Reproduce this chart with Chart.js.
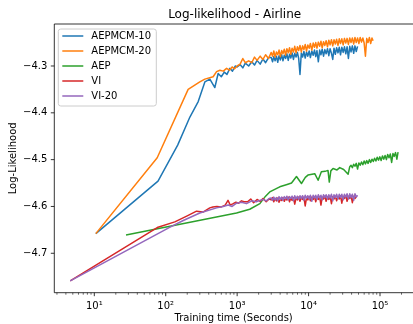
<!DOCTYPE html>
<html><head><meta charset="utf-8">
<script src="https://cdn.jsdelivr.net/npm/chart.js@4.4.0/dist/chart.umd.min.js"></script>
<style>html,body{margin:0;padding:0;background:#fff;}canvas{display:block;}</style>
</head><body>
<canvas id="c" width="413" height="324"></canvas>
<script>
// ---------- data ----------
const chartTitle = 'Log-likelihood - Airline';
const xAxisTitle = 'Training time (Seconds)';
const yAxisTitle = 'Log-Likelihood';
const seriesNames = ['AEPMCM-10', 'AEPMCM-20', 'AEP', 'VI', 'VI-20'];
const seriesColors = ['#1f77b4', '#ff7f0e', '#2ca02c', '#d62728', '#9467bd'];

const xMajorTicks = [10, 100, 1000, 10000, 100000];
const xTickText = ['10\u00b9', '10\u00b2', '10\u00b3', '10\u2074', '10\u2075'];
const yTicks = [-4.7, -4.6, -4.5, -4.4, -4.3];
const yTickText = ['\u22124.7', '\u22124.6', '\u22124.5', '\u22124.4', '\u22124.3'];

// evaluation times of the long runs (seconds)
const denseTimes = [3000, 3130, 3260, 3400, 3550, 3700, 3860, 4030, 4200, 4380,
  4570, 4770, 4970, 5190, 5410, 5640, 5880, 6140, 6400, 6680,
  6970, 7270, 7580, 7910, 8250, 8600, 8970, 9360, 9760, 10200,
  10600, 11100, 11600, 12100, 12600, 13100, 13700, 14300, 14900, 15500,
  16200, 16900, 17600, 18400, 19200, 20000, 20900, 21800, 22700, 23700,
  24700, 25800, 26900, 28000, 29200, 30500, 31800, 33200, 34600, 36100,
  37700, 39300, 41000, 42800, 44600, 46500, 48500, 50600, 52800, 55100,
  57500, 60000, 62500, 65200, 68000, 71000, 74000, 77200, 80000];

const aepmcm10Time = [10.5, 78, 147, 218, 285, 353, 415, 487, 542, 600, 660, 720, 790, 860, 940,
  1000, 1100, 1200, 1300, 1450, 1600, 1750, 1900, 2100, 2300, 2500, 2750].concat(denseTimes);
const aepmcm10LL = [-4.658, -4.546, -4.469, -4.409, -4.376, -4.334, -4.328, -4.346, -4.316, -4.323, -4.313, -4.318, -4.305, -4.311, -4.300,
  -4.302, -4.297, -4.304, -4.294, -4.300, -4.291, -4.298, -4.288, -4.296, -4.285, -4.293, -4.282,
  -4.282, -4.291, -4.280, -4.289, -4.279, -4.292, -4.278, -4.287, -4.276, -4.289,
  -4.277, -4.284, -4.274, -4.288, -4.275, -4.283, -4.272, -4.286, -4.273, -4.281,
  -4.271, -4.284, -4.318, -4.272, -4.281, -4.269, -4.283, -4.270, -4.279, -4.268,
  -4.282, -4.268, -4.277, -4.266, -4.280, -4.267, -4.291, -4.266, -4.276, -4.264,
  -4.279, -4.265, -4.274, -4.263, -4.278, -4.263, -4.273, -4.286, -4.262, -4.275,
  -4.261, -4.272, -4.260, -4.276, -4.260, -4.271, -4.259, -4.274, -4.259, -4.284,
  -4.258, -4.270, -4.257, -4.273, -4.257, -4.269, -4.258];

const aepmcm20Time = [10.5, 76, 206, 300, 353, 461, 515, 573, 640, 711, 780, 850, 920,
  1000, 1100, 1200, 1300, 1450, 1600, 1750, 1900, 2100, 2300, 2500, 2750].concat(denseTimes);
const aepmcm20LL = [-4.658, -4.496, -4.350, -4.334, -4.328, -4.323, -4.312, -4.309, -4.311, -4.305, -4.309, -4.302, -4.306,
  -4.300, -4.296, -4.284, -4.293, -4.289, -4.293, -4.281, -4.288, -4.279, -4.286, -4.276, -4.284,
  -4.271, -4.279, -4.268, -4.281, -4.270, -4.276, -4.266, -4.280, -4.267, -4.274,
  -4.264, -4.277, -4.263, -4.272, -4.261, -4.275, -4.262, -4.270, -4.258, -4.272,
  -4.259, -4.267, -4.256, -4.270, -4.257, -4.265, -4.254, -4.268, -4.255, -4.262,
  -4.252, -4.266, -4.251, -4.260, -4.250, -4.262, -4.249, -4.258, -4.247, -4.261,
  -4.248, -4.256, -4.246, -4.259, -4.245, -4.255, -4.244, -4.257, -4.244, -4.253,
  -4.243, -4.256, -4.242, -4.252, -4.242, -4.255, -4.241, -4.251, -4.241, -4.254,
  -4.240, -4.250, -4.240, -4.253, -4.239, -4.250, -4.240, -4.252, -4.239, -4.249,
  -4.240, -4.251, -4.279, -4.241, -4.250, -4.239, -4.252, -4.240, -4.246];

const aepTime = [27.8, 980, 1500, 2080, 2500, 2860, 3950, 5000, 5770, 6770, 7950, 9000, 9800, 12200, 13600, 15100, 17000, 18700, 19500, 20500, 22000, 25000, 27300, 31000, 35800,
  37700, 39300, 41000, 42800, 44600, 46500, 48500, 50600, 52800, 55100, 57500, 60000, 62500, 65200, 68000, 71000, 74000, 77200, 80500, 84000, 87600, 91400, 95300, 99400,
  103700, 108200, 112900, 117800, 122900, 128200, 133700, 139500, 145500, 151800, 158300, 165100, 172200, 179000];
const aepLL = [-4.661, -4.614, -4.606, -4.594, -4.578, -4.569, -4.558, -4.553, -4.550, -4.536, -4.551, -4.538, -4.533, -4.530, -4.544, -4.526, -4.525, -4.523, -4.548, -4.524, -4.519, -4.522, -4.517, -4.521, -4.531,
  -4.515, -4.512, -4.517, -4.510, -4.514, -4.508, -4.520, -4.507, -4.512, -4.505, -4.511, -4.503, -4.509, -4.502, -4.508, -4.500, -4.506, -4.499, -4.504, -4.497, -4.503, -4.495, -4.501, -4.494,
  -4.502, -4.492, -4.499, -4.491, -4.500, -4.489, -4.496, -4.488, -4.506, -4.487, -4.493, -4.485, -4.499, -4.484];

const viTime = [4.6, 76, 134, 200, 270, 333, 414, 457, 520, 600, 680, 745, 800, 880, 960, 1050, 1150, 1250,
  1400, 1550, 1700, 1900, 2100, 2300, 2550, 2800].concat(denseTimes);
const viLL = [-4.759, -4.645, -4.633, -4.620, -4.610, -4.612, -4.603, -4.601, -4.600, -4.601, -4.597, -4.587, -4.597, -4.594, -4.591, -4.593, -4.588, -4.590,
  -4.590, -4.584, -4.592, -4.585, -4.589, -4.583, -4.590, -4.584,
  -4.586, -4.581, -4.590, -4.583, -4.588, -4.582, -4.591, -4.584, -4.587, -4.581,
  -4.589, -4.583, -4.586, -4.580, -4.590, -4.582, -4.587, -4.581, -4.595, -4.582,
  -4.586, -4.580, -4.589, -4.581, -4.585, -4.580, -4.599, -4.581, -4.586, -4.579,
  -4.588, -4.580, -4.585, -4.579, -4.590, -4.580, -4.585, -4.579, -4.597, -4.580,
  -4.584, -4.578, -4.589, -4.579, -4.585, -4.578, -4.594, -4.579, -4.584, -4.578,
  -4.588, -4.579, -4.584, -4.577, -4.593, -4.578, -4.583, -4.577, -4.589, -4.578,
  -4.583, -4.577, -4.592, -4.578, -4.583, -4.580];

const vi20Time = [4.6, 115, 176, 300, 515, 637, 750, 850, 980, 1150, 1350, 1600, 1850, 2080, 2300, 2550, 2800].concat(denseTimes);
const vi20LL = [-4.759, -4.644, -4.630, -4.614, -4.603, -4.600, -4.597, -4.600, -4.593, -4.591, -4.594, -4.588, -4.590, -4.587, -4.585, -4.588, -4.583,
  -4.582, -4.587, -4.580, -4.586, -4.581, -4.588, -4.579, -4.585, -4.580, -4.587,
  -4.579, -4.584, -4.578, -4.586, -4.579, -4.583, -4.578, -4.588, -4.577, -4.584,
  -4.578, -4.585, -4.577, -4.583, -4.577, -4.587, -4.576, -4.583, -4.577, -4.584,
  -4.576, -4.589, -4.576, -4.582, -4.576, -4.585, -4.575, -4.582, -4.576, -4.586,
  -4.575, -4.581, -4.575, -4.584, -4.575, -4.582, -4.574, -4.588, -4.575, -4.581,
  -4.574, -4.584, -4.574, -4.581, -4.574, -4.586, -4.574, -4.580, -4.573, -4.584,
  -4.573, -4.581, -4.574, -4.587, -4.573, -4.580, -4.576];

const seriesTimes = [aepmcm10Time, aepmcm20Time, aepTime, viTime, vi20Time];
const seriesLL = [aepmcm10LL, aepmcm20LL, aepLL, viLL, vi20LL];

// ---------- chart ----------
const FONT = '"DejaVu Sans", "Liberation Sans", sans-serif';
Chart.defaults.color = '#000';
Chart.defaults.font.family = FONT;

const xMinorTicks = [];
for (let d = 1; d <= 100000; d *= 10) for (let m = 1; m <= 9; m++) xMinorTicks.push(d * m);

const datasets = seriesNames.map((name, i) => ({
  label: name,
  data: seriesLL[i].map((v, k) => ({x: seriesTimes[i][k], y: v})),
  borderColor: seriesColors[i],
  backgroundColor: seriesColors[i],
  borderWidth: 1.5,
  pointRadius: 0,
  tension: 0,
  fill: false,
  borderJoinStyle: 'round',
  order: seriesNames.length - 1 - i
}));

const decor = {
  id: 'decor',
  afterDraw(chart) {
    const ctx = chart.ctx, a = chart.chartArea, xs = chart.scales.x, ys = chart.scales.y;
    ctx.save();
    ctx.strokeStyle = '#000';
    ctx.lineWidth = 0.8;
    ctx.beginPath();
    ctx.moveTo(a.left, a.top); ctx.lineTo(a.left, a.bottom); ctx.lineTo(a.right, a.bottom);
    ctx.moveTo(a.left, a.top); ctx.lineTo(a.right, a.top);
    ctx.stroke();
    xs.ticks.forEach(t => {
      const px = xs.getPixelForValue(t.value);
      if (px < a.left - 0.5 || px > a.right + 0.5) return;
      const len = t.major ? 3.5 : 2;
      ctx.lineWidth = t.major ? 0.8 : 0.6;
      ctx.beginPath(); ctx.moveTo(px, a.bottom); ctx.lineTo(px, a.bottom + len); ctx.stroke();
    });
    ys.ticks.forEach(t => {
      const py = ys.getPixelForValue(t.value);
      ctx.lineWidth = 0.8;
      ctx.beginPath(); ctx.moveTo(a.left, py); ctx.lineTo(a.left - 3.5, py); ctx.stroke();
    });
    // legend
    const lx = a.left + 4, ly = a.top + 5, lw = 98, lh = 77;
    ctx.beginPath();
    if (ctx.roundRect) ctx.roundRect(lx, ly, lw, lh, 2.5); else ctx.rect(lx, ly, lw, lh);
    ctx.fillStyle = 'rgba(255,255,255,0.8)';
    ctx.fill();
    ctx.strokeStyle = '#cccccc';
    ctx.lineWidth = 1;
    ctx.stroke();
    ctx.font = '10px ' + FONT;
    ctx.textBaseline = 'middle';
    ctx.textAlign = 'left';
    seriesNames.forEach((name, i) => {
      const y = ly + 7 + i * 15;
      ctx.strokeStyle = seriesColors[i];
      ctx.lineWidth = 1.5;
      ctx.beginPath(); ctx.moveTo(lx + 4, y); ctx.lineTo(lx + 25, y); ctx.stroke();
      ctx.fillStyle = '#000';
      ctx.fillText(name, lx + 33, y + 0.5);
    });
    // title
    ctx.font = '12px ' + FONT;
    ctx.textAlign = 'center';
    ctx.textBaseline = 'alphabetic';
    ctx.fillStyle = '#000';
    ctx.fillText(chartTitle, (a.left + a.right) / 2 + 1, a.top - 6);
    ctx.restore();
  }
};

new Chart(document.getElementById('c'), {
  type: 'line',
  data: {datasets},
  options: {
    responsive: false,
    animation: false,
    devicePixelRatio: 1,
    layout: {padding: {top: 24, left: 0, right: 0, bottom: 0}},
    plugins: {legend: {display: false}, title: {display: false}, tooltip: {enabled: false}},
    scales: {
      x: {
        type: 'logarithmic',
        min: 2.754,
        max: 289700,
        grid: {display: false, drawTicks: false},
        border: {display: false},
        afterBuildTicks: s => { s.ticks = xMinorTicks.filter(v => v >= s.min && v <= s.max).map(v => ({value: v, major: xMajorTicks.includes(v)})); },
        afterFit: s => { s.height = 31.3; },
        ticks: {
          autoSkip: false, maxRotation: 0, minRotation: 0, padding: 8,
          font: {size: 10, family: FONT},
          callback: (v) => { const k = xMajorTicks.indexOf(v); return k >= 0 ? xTickText[k] : ''; }
        },
        title: {display: true, text: xAxisTitle, font: {size: 10, family: FONT}, padding: {top: 0, bottom: 0}}
      },
      y: {
        type: 'linear',
        min: -4.7842,
        max: -4.2103,
        grid: {display: false, drawTicks: false},
        border: {display: false},
        afterBuildTicks: s => { s.ticks = yTicks.map(v => ({value: v})); },
        afterFit: s => { s.width = 54.3; },
        ticks: {
          padding: 7,
          font: {size: 10, family: FONT},
          callback: (v) => { const k = yTicks.findIndex(t => Math.abs(t - v) < 1e-6); return k >= 0 ? yTickText[k] : ''; }
        },
        title: {display: true, text: yAxisTitle, font: {size: 10, family: FONT}, padding: {top: 7, bottom: 0}}
      }
    }
  },
  plugins: [decor]
});
</script>
</body></html>
